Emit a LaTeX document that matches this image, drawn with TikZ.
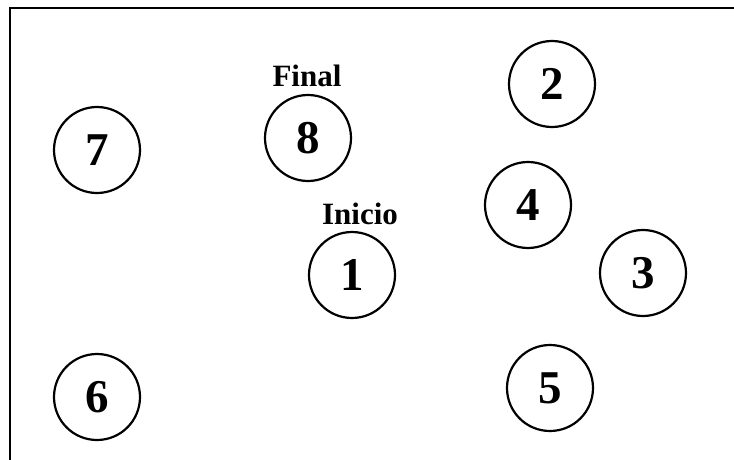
\documentclass[tikz,border=0pt]{standalone}
\usepackage{fontspec}
\setmainfont{Liberation Serif}
\usepackage{tikz}

\begin{document}
\begin{tikzpicture}[x=1pt,y=-1pt,
                estado/.style={draw,circle,line width=2.2pt,minimum size=86pt,inner sep=0pt,font=\fontsize{47}{47}\selectfont\bfseries},
                etiqueta/.style={font=\fontsize{31}{31}\selectfont\bfseries}]
                \useasboundingbox (0,0) rectangle (734,460);

                \coordinate (TL) at (10,8);
                \coordinate (TR) at (734,8);
                \coordinate (BL) at (10,460);

                \node[estado] (n1) at (352,275) {1};
                \node[estado] (n2) at (552,84) {2};
                \node[estado] (n3) at (643,273) {3};
                \node[estado] (n4) at (528,205) {4};
                \node[estado] (n5) at (550,388) {5};
                \node[estado] (n6) at (97,397) {6};
                \node[estado] (n7) at (97,150) {7};
                \node[estado] (n8) at (308,138) {8};

                \node[etiqueta] (final) at (307,76) {Final};
                \node[etiqueta] (inicio) at (360,214) {Inicio};

                \draw[line width=2.6pt] (BL)--(TL)--(TR);
            \end{tikzpicture}
\end{document}
